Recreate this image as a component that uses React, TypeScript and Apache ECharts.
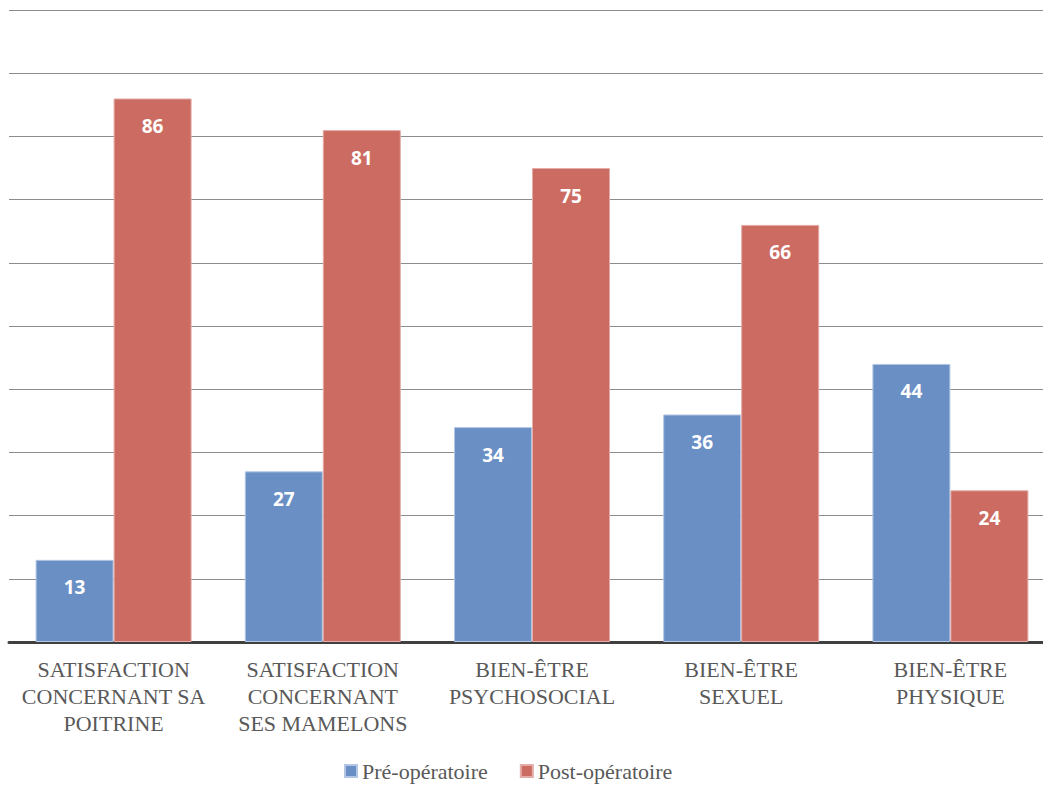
import React, { useEffect, useRef } from "react";
import * as echarts from "echarts";

const categories = [
  "SATISFACTION\nCONCERNANT SA\nPOITRINE",
  "SATISFACTION\nCONCERNANT\nSES MAMELONS",
  "BIEN-ÊTRE\nPSYCHOSOCIAL",
  "BIEN-ÊTRE\nSEXUEL",
  "BIEN-ÊTRE\nPHYSIQUE",
];
const preValues = [13, 27, 34, 36, 44];
const postValues = [86, 81, 75, 66, 24];
const seriesNames = ["Pré-opératoire", "Post-opératoire"];

const SERIF = "Liberation Serif";

const css = `
.chartbox svg text { font-family: "Liberation Serif", "Times New Roman", serif !important; }
.chartbox svg text[fill="#fff"],
.chartbox svg text[fill="#ffffff"],
.chartbox svg text[fill="white"],
.chartbox svg text[fill="rgb(255,255,255)"],
.chartbox svg text[style*="bold"] { font-family: "Open Sans", sans-serif !important; font-weight: bold !important; }
`;

export default function App() {
  const ref = useRef<HTMLDivElement>(null);
  useEffect(() => {
    if (!ref.current) return;
    const chart = echarts.init(ref.current, null, { renderer: "svg" });
    const label = {
      show: true,
      position: "insideTop" as const,
      distance: 18,
      color: "#ffffff",
      fontWeight: "bold" as const,
      fontSize: 19,
      fontFamily: "Open Sans",
    };
    chart.setOption({
      animation: false,
      backgroundColor: "#ffffff",
      grid: { left: 9, right: 0, top: 10, bottom: 147, containLabel: false },
      legend: {
        bottom: 2,
        left: 339,
        itemWidth: 12,
        itemHeight: 12,
        itemGap: 32,
        icon: "rect",
        textStyle: {
          fontFamily: SERIF,
          fontSize: 22,
          color: "#595959",
        },
        data: seriesNames,
      },
      xAxis: {
        type: "category",
        data: categories,
        axisLine: { show: true, lineStyle: { color: "#404040", width: 3 } },
        axisTick: { show: false },
        axisLabel: {
          interval: 0,
          margin: 14,
          fontFamily: SERIF,
          fontSize: 22,
          lineHeight: 27,
          color: "#595959",
        },
      },
      yAxis: {
        type: "value",
        min: 0,
        max: 100,
        interval: 10,
        axisLabel: { show: false },
        axisLine: { show: false },
        axisTick: { show: false },
        splitLine: { show: true, lineStyle: { color: "#8c8c8c", width: 1 } },
      },
      series: [
        {
          name: seriesNames[0],
          type: "bar",
          data: preValues,
          barWidth: 78,
          barGap: "0%",
          itemStyle: { color: "#6a8fc5", borderColor: "#b3c6e3", borderWidth: 1 },
          label,
        },
        {
          name: seriesNames[1],
          type: "bar",
          data: postValues,
          barWidth: 78,
          barGap: "0%",
          itemStyle: { color: "#cb6b62", borderColor: "#e3aca6", borderWidth: 1 },
          label,
        },
      ],
    });
    return () => chart.dispose();
  }, []);
  return (
    <>
      <style>{css}</style>
      <div
        ref={ref}
        className="chartbox"
        style={{ position: "fixed", left: 0, top: 0, width: 1055, height: 789 }}
      />
    </>
  );
}
